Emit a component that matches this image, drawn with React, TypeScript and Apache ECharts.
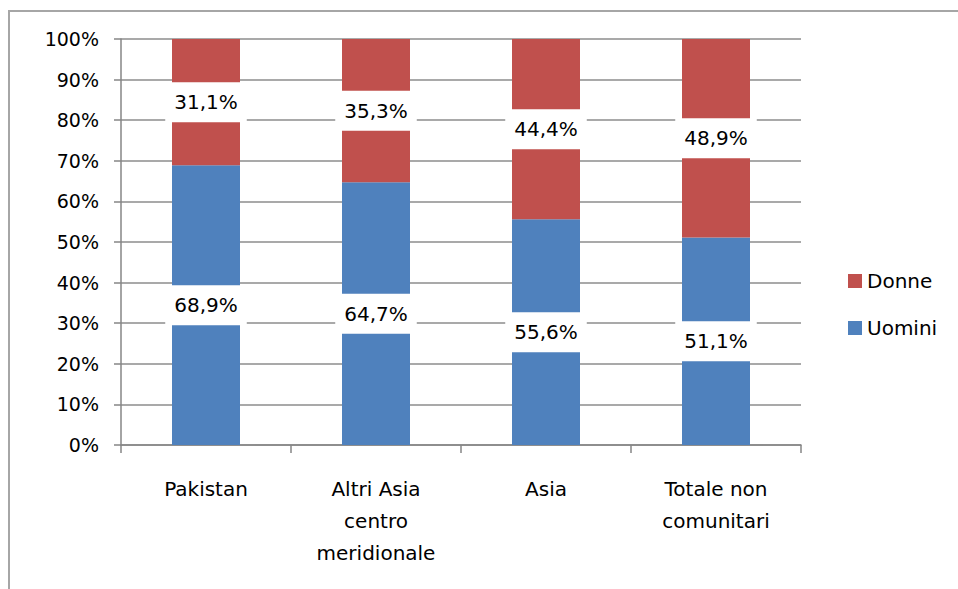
import React, { useEffect, useRef } from "react";
import * as echarts from "echarts";

const categories = ["Pakistan", "Altri Asia\ncentro\nmeridionale", "Asia", "Totale non\ncomunitari"];
const uomini = [68.9, 64.7, 55.6, 51.1];
const donne = [31.1, 35.3, 44.4, 48.9];
const seriesNames = ["Uomini", "Donne"];
const legendOrder = ["Donne", "Uomini"];

const FONT = "DejaVu Sans";

export default function App() {
  const ref = useRef<HTMLDivElement>(null);
  useEffect(() => {
    document.body.style.margin = "0";
    const chart = echarts.init(ref.current!, null, { renderer: "svg" });
    const labelCfg = {
      show: true,
      position: "inside",
      formatter: (p: any) => p.value.toFixed(1).replace(".", ",") + "%",
      backgroundColor: "#ffffff",
      padding: [10, 9],
      fontSize: 20,
      fontFamily: FONT,
      color: "#000000",
    };
    chart.setOption({
      animation: false,
      backgroundColor: "#ffffff",
      grid: { left: 121, top: 39, width: 680, height: 406, containLabel: false },
      legend: {
        orient: "vertical",
        left: 843,
        top: 266,
        data: legendOrder,
        itemWidth: 14,
        itemHeight: 14,
        itemGap: 27,
        itemTextGap: 8,
        icon: "rect",
        textStyle: { fontSize: 20, fontFamily: FONT, color: "#000", lineHeight: 20 },
      },
      xAxis: {
        type: "category",
        data: categories,
        axisLine: { show: true, lineStyle: { color: "#868686", width: 1.5 } },
        axisTick: { show: true, length: 8, lineStyle: { color: "#868686", width: 1.5 } },
        axisLabel: {
          fontSize: 20,
          fontFamily: FONT,
          color: "#000",
          margin: 28,
          lineHeight: 32,
          interval: 0,
        },
      },
      yAxis: {
        type: "value",
        min: 0,
        max: 100,
        interval: 10,
        axisLine: { show: true, lineStyle: { color: "#868686", width: 1.5 } },
        axisTick: { show: true, length: 7, lineStyle: { color: "#868686", width: 1.5 } },
        splitLine: { show: true, lineStyle: { color: "#8c8c8c", width: 1.5 } },
        axisLabel: {
          fontSize: 19,
          fontFamily: FONT,
          color: "#000",
          margin: 22,
          formatter: (v: number) => v + "%",
        },
      },
      graphic: [
        {
          type: "rect",
          shape: { x: 9, y: 11, width: 1200, height: 900 },
          style: { fill: "none", stroke: "#a6a6a6", lineWidth: 2 },
          silent: true,
        },
      ],
      series: [
        {
          name: seriesNames[0],
          type: "bar",
          stack: "tot",
          data: uomini,
          barWidth: 68,
          itemStyle: { color: "#4F81BD" },
          label: labelCfg,
        },
        {
          name: seriesNames[1],
          type: "bar",
          stack: "tot",
          data: donne,
          barWidth: 68,
          itemStyle: { color: "#C0504D" },
          label: labelCfg,
        },
      ],
    });
    return () => chart.dispose();
  }, []);
  return <div ref={ref} style={{ position: "absolute", left: 0, top: 0, width: 958, height: 589 }} />;
}
